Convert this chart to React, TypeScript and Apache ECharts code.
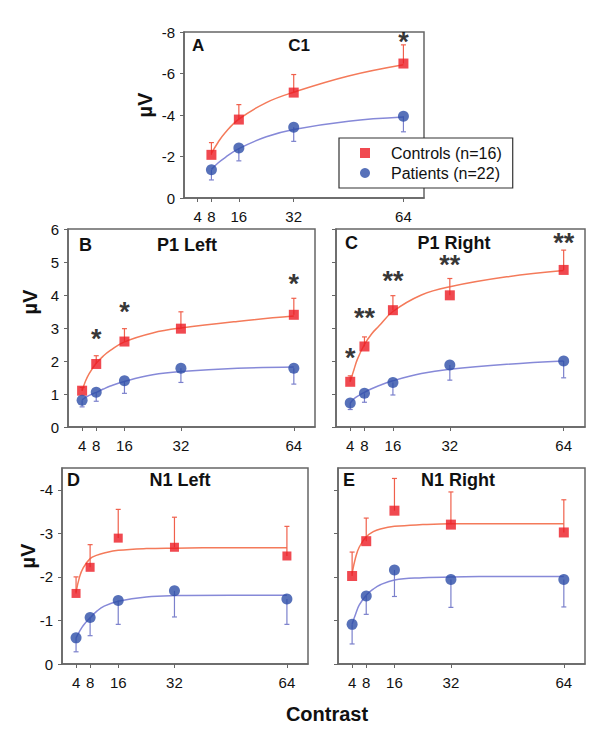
import React, { useEffect, useRef } from 'react';
import * as echarts from 'echarts';

const FONT = "'Liberation Sans', Arial, Helvetica, sans-serif";

// ---- data ----
const xTicks = [4, 8, 16, 32, 64];
const contrastA = [8, 16, 32, 64];
const contrastBE = [4, 8, 16, 32, 64];
const fitXA = [8, 10, 12, 16, 24, 32, 48, 64];
const fitXBE = [4, 5, 6, 8, 10, 12, 16, 24, 32, 48, 64];

const yTicksA = [-8, -6, -4, -2, 0];
const yTicksBC = [0, 1, 2, 3, 4, 5, 6];
const yTicksDE = [-4, -3, -2, -1, 0];

// A: C1
const ctrlA = [-2.08, -3.78, -5.08, -6.48];
const ctrlErrA = [0.59, 0.72, 0.87, 0.9];
const patA = [-1.36, -2.41, -3.41, -3.94];
const patErrA = [0.49, 0.62, 0.68, 0.75];
const fitCtrlA = [-2.15, -2.7, -3.15, -3.8, -4.6, -5.1, -5.88, -6.42];
const fitPatA = [-1.38, -1.7, -1.95, -2.38, -2.95, -3.3, -3.7, -3.9];
const starXA = [64];
const starYA = [-7.82];
const starTA = ['*'];

// B: P1 Left
const ctrlB = [1.1, 1.91, 2.59, 2.98, 3.4];
const ctrlErrB = [0.1, 0.25, 0.39, 0.51, 0.5];
const patB = [0.81, 1.05, 1.4, 1.78, 1.78];
const patErrB = [0.2, 0.27, 0.38, 0.43, 0.48];
const fitCtrlB = [1.1, 1.4, 1.62, 1.93, 2.15, 2.32, 2.58, 2.85, 3.0, 3.2, 3.36];
const fitPatB = [0.82, 0.9, 0.96, 1.05, 1.15, 1.24, 1.38, 1.58, 1.68, 1.78, 1.82];
const starXB = [8, 16, 64];
const starYB = [2.85, 3.66, 4.52];
const starTB = ['*', '*', '*'];

// C: P1 Right
const ctrlC = [1.37, 2.44, 3.54, 3.99, 4.76];
const ctrlErrC = [0.18, 0.29, 0.44, 0.51, 0.6];
const patC = [0.73, 1.02, 1.35, 1.88, 2.0];
const patErrC = [0.2, 0.27, 0.38, 0.46, 0.51];
const fitCtrlC = [1.38, 1.72, 2.05, 2.5, 2.82, 3.05, 3.5, 4.0, 4.25, 4.55, 4.74];
const fitPatC = [0.73, 0.85, 0.93, 1.05, 1.16, 1.25, 1.4, 1.62, 1.75, 1.9, 2.0];
const starXC = [4, 8, 16, 32, 64];
const starYC = [2.27, 3.48, 4.6, 5.08, 5.77];
const starTC = ['*', '**', '**', '**', '**'];

// D: N1 Left
const ctrlD = [-1.62, -2.22, -2.89, -2.68, -2.48];
const ctrlErrD = [0.38, 0.52, 0.66, 0.69, 0.68];
const patD = [-0.6, -1.07, -1.46, -1.68, -1.49];
const patErrD = [0.32, 0.42, 0.55, 0.6, 0.58];
const fitCtrlD = [-1.65, -2.0, -2.2, -2.42, -2.5, -2.55, -2.61, -2.65, -2.66, -2.67, -2.67];
const fitPatD = [-0.6, -0.75, -0.88, -1.06, -1.22, -1.33, -1.44, -1.54, -1.57, -1.58, -1.58];

// E: N1 Right
const ctrlE = [-2.02, -2.82, -3.52, -3.2, -3.02];
const ctrlErrE = [0.55, 0.53, 0.74, 0.75, 0.75];
const patE = [-0.91, -1.56, -2.16, -1.94, -1.94];
const patErrE = [0.45, 0.42, 0.61, 0.64, 0.63];
const fitCtrlE = [-2.08, -2.45, -2.68, -2.92, -3.04, -3.1, -3.16, -3.2, -3.22, -3.22, -3.22];
const fitPatE = [-0.92, -1.15, -1.35, -1.58, -1.72, -1.82, -1.93, -1.98, -2.0, -2.01, -2.01];

const CTRL_NAME = 'Controls (n=16)';
const PAT_NAME = 'Patients (n=22)';

// ---- styling / layout ----
const AXIS_COLOR = '#666666';
const CTRL_MARK = '#ec1c24';
const CTRL_LINE = '#f47a5a';
const CTRL_ERR = '#f0604c';
const PAT_MARK = '#2d4ea8';
const PAT_LINE = '#8689d8';
const PAT_ERR = '#7b80cc';

type Panel = {
  letter: string;
  title: string;
  x: number[];
  ctrl: number[];
  ctrlErr: number[];
  pat: number[];
  patErr: number[];
  fitX: number[];
  fitCtrl: number[];
  fitPat: number[];
  starX: number[];
  starY: number[];
  starT: string[];
  yMin: number;
  yMax: number;
  yTicks: number[];
  inverse: boolean;
  grid: { left: number; top: number; width: number; height: number };
  showYLabels: boolean;
  titleSize: number;
  sqSize: number;
  circSize: number;
};

const panels: Panel[] = [
  {
    letter: 'A', title: 'C1', x: contrastA, ctrl: ctrlA, ctrlErr: ctrlErrA, pat: patA, patErr: patErrA,
    fitX: fitXA, fitCtrl: fitCtrlA, fitPat: fitPatA, starX: starXA, starY: starYA, starT: starTA,
    yMin: -8, yMax: 0, yTicks: yTicksA, inverse: true,
    grid: { left: 184, top: 32, width: 240, height: 166 }, showYLabels: true, titleSize: 17, sqSize: 10, circSize: 11,
  },
  {
    letter: 'B', title: 'P1 Left', x: contrastBE, ctrl: ctrlB, ctrlErr: ctrlErrB, pat: patB, patErr: patErrB,
    fitX: fitXBE, fitCtrl: fitCtrlB, fitPat: fitPatB, starX: starXB, starY: starYB, starT: starTB,
    yMin: 0, yMax: 6, yTicks: yTicksBC, inverse: false,
    grid: { left: 68, top: 229, width: 247, height: 198 }, showYLabels: true, titleSize: 18, sqSize: 10, circSize: 11,
  },
  {
    letter: 'C', title: 'P1 Right', x: contrastBE, ctrl: ctrlC, ctrlErr: ctrlErrC, pat: patC, patErr: patErrC,
    fitX: fitXBE, fitCtrl: fitCtrlC, fitPat: fitPatC, starX: starXC, starY: starYC, starT: starTC,
    yMin: 0, yMax: 6, yTicks: yTicksBC, inverse: false,
    grid: { left: 336, top: 229, width: 249, height: 198 }, showYLabels: false, titleSize: 18, sqSize: 10, circSize: 11,
  },
  {
    letter: 'D', title: 'N1 Left', x: contrastBE, ctrl: ctrlD, ctrlErr: ctrlErrD, pat: patD, patErr: patErrD,
    fitX: fitXBE, fitCtrl: fitCtrlD, fitPat: fitPatD, starX: [], starY: [], starT: [],
    yMin: -4.5, yMax: 0, yTicks: yTicksDE, inverse: true,
    grid: { left: 62, top: 468, width: 246, height: 196 }, showYLabels: true, titleSize: 18, sqSize: 9, circSize: 11,
  },
  {
    letter: 'E', title: 'N1 Right', x: contrastBE, ctrl: ctrlE, ctrlErr: ctrlErrE, pat: patE, patErr: patErrE,
    fitX: fitXBE, fitCtrl: fitCtrlE, fitPat: fitPatE, starX: [], starY: [], starT: [],
    yMin: -4.5, yMax: 0, yTicks: yTicksDE, inverse: true,
    grid: { left: 338, top: 468, width: 247, height: 196 }, showYLabels: false, titleSize: 18, sqSize: 10, circSize: 11,
  },
];

// label placement (pixel layout)
const titlePos = [
  { lx: 192, nx: 299, y: 45.5 },
  { lx: 79, nx: 187, y: 244.5 },
  { lx: 345, nx: 454, y: 242.5 },
  { lx: 67, nx: 180, y: 479.5 },
  { lx: 343, nx: 458, y: 479.5 },
];
const muPos = [
  { x: 145, y: 105 },
  { x: 30, y: 302 },
  { x: 28, y: 556 },
];

function errRender(color: string) {
  return (params: any, api: any) => {
    const x = api.value(0);
    const y = api.value(1);
    const e = api.value(2);
    const p0 = api.coord([x, y]);
    const p1 = api.coord([x, e]);
    const style = { stroke: color, lineWidth: 1.2 };
    return {
      type: 'group',
      children: [
        { type: 'line', shape: { x1: p0[0], y1: p0[1], x2: p1[0], y2: p1[1] }, style },
        { type: 'line', shape: { x1: p1[0] - 2.5, y1: p1[1], x2: p1[0] + 2.5, y2: p1[1] }, style },
      ],
    };
  };
}

function buildOption() {
  const grids: any[] = [];
  const xAxes: any[] = [];
  const yAxes: any[] = [];
  const series: any[] = [];
  const graphic: any[] = [];

  panels.forEach((p, i) => {
    grids.push({
      ...p.grid,
      show: true,
      borderColor: AXIS_COLOR,
      borderWidth: 1.5,
      backgroundColor: 'transparent',
      containLabel: false,
    });
    xAxes.push({
      type: 'value',
      gridIndex: i,
      min: 0,
      max: 70,
      splitLine: { show: false },
      axisLine: { show: true, lineStyle: { color: AXIS_COLOR, width: 1.5 } },
      axisTick: { show: true, customValues: xTicks, length: 4, lineStyle: { color: AXIS_COLOR, width: 1 } },
      axisLabel: { show: true, customValues: xTicks, fontSize: 15, margin: 11, color: '#111', fontFamily: FONT },
    });
    yAxes.push({
      type: 'value',
      gridIndex: i,
      min: p.yMin,
      max: p.yMax,
      inverse: p.inverse,
      splitLine: { show: false },
      axisLine: { show: true, lineStyle: { color: AXIS_COLOR, width: 1.5 } },
      axisTick: { show: true, customValues: p.yTicks, length: 4, lineStyle: { color: AXIS_COLOR, width: 1 } },
      axisLabel: {
        show: p.showYLabels,
        customValues: p.yTicks,
        fontSize: 15,
        margin: 9,
        color: '#111',
        fontFamily: FONT,
      },
    });

    const sgnC = (v: number) => (v < 0 ? -1 : 1);
    const ctrlErrData = p.x.map((x, k) => [x, p.ctrl[k], p.ctrl[k] + sgnC(p.ctrl[k]) * p.ctrlErr[k]]);
    const patErrData = p.x.map((x, k) => [x, p.pat[k], p.pat[k] - sgnC(p.pat[k]) * p.patErr[k]]);

    series.push({
      name: 'Controls fit',
      type: 'line',
      xAxisIndex: i,
      yAxisIndex: i,
      smooth: 0.4,
      showSymbol: false,
      symbol: 'none',
      silent: true,
      data: p.fitX.map((x, k) => [x, p.fitCtrl[k]]),
      lineStyle: { color: CTRL_LINE, width: 1.5 },
      z: 2,
    });
    series.push({
      name: 'Patients fit',
      type: 'line',
      xAxisIndex: i,
      yAxisIndex: i,
      smooth: 0.4,
      showSymbol: false,
      symbol: 'none',
      silent: true,
      data: p.fitX.map((x, k) => [x, p.fitPat[k]]),
      lineStyle: { color: PAT_LINE, width: 1.5 },
      z: 2,
    });
    series.push({
      name: 'Controls SEM',
      type: 'custom',
      xAxisIndex: i,
      yAxisIndex: i,
      silent: true,
      renderItem: errRender(CTRL_ERR),
      data: ctrlErrData,
      z: 3,
    });
    series.push({
      name: 'Patients SEM',
      type: 'custom',
      xAxisIndex: i,
      yAxisIndex: i,
      silent: true,
      renderItem: errRender(PAT_ERR),
      data: patErrData,
      z: 3,
    });
    series.push({
      name: CTRL_NAME,
      type: 'scatter',
      xAxisIndex: i,
      yAxisIndex: i,
      symbol: 'rect',
      symbolSize: p.sqSize,
      itemStyle: { color: CTRL_MARK },
      data: p.x.map((x, k) => [x, p.ctrl[k]]),
      z: 4,
    });
    series.push({
      name: PAT_NAME,
      type: 'scatter',
      xAxisIndex: i,
      yAxisIndex: i,
      symbol: 'circle',
      symbolSize: p.circSize,
      itemStyle: { color: PAT_MARK },
      data: p.x.map((x, k) => [x, p.pat[k]]),
      z: 4,
    });
    if (p.starX.length) {
      series.push({
        name: 'significance',
        type: 'scatter',
        xAxisIndex: i,
        yAxisIndex: i,
        symbolSize: 0.1,
        silent: true,
        itemStyle: { color: 'transparent' },
        data: p.starX.map((x, k) => [x, p.starY[k], p.starT[k]]),
        label: {
          show: true,
          position: 'inside',
          formatter: (d: any) => d.value[2],
          fontSize: 27,
          fontWeight: 'bold',
          color: '#000',
          fontFamily: FONT,
          offset: [0, 6],
        },
        z: 5,
      });
    }

    const tp = titlePos[i];
    graphic.push({
      type: 'text',
      x: tp.lx,
      y: tp.y,
      z: 10,
      style: {
        text: p.letter,
        fontSize: p.titleSize,
        fontWeight: 'bold',
        fontFamily: FONT,
        fill: '#111',
        align: 'left',
        verticalAlign: 'middle',
        textAlign: 'left',
        textVerticalAlign: 'middle',
      },
    });
    graphic.push({
      type: 'text',
      x: tp.nx,
      y: tp.y,
      z: 10,
      style: {
        text: p.title,
        fontSize: p.titleSize,
        fontWeight: 'bold',
        fontFamily: FONT,
        fill: '#111',
        align: 'center',
        verticalAlign: 'middle',
        textAlign: 'center',
        textVerticalAlign: 'middle',
      },
    });
  });

  muPos.forEach((m) => {
    graphic.push({
      type: 'text',
      x: m.x,
      y: m.y,
      rotation: Math.PI / 2,
      z: 10,
      style: {
        text: 'µV',
        fontSize: 20,
        fontWeight: 'bold',
        fontFamily: FONT,
        fill: '#111',
        align: 'center',
        verticalAlign: 'middle',
        textAlign: 'center',
        textVerticalAlign: 'middle',
      },
    });
  });

  graphic.push({
    type: 'text',
    x: 327,
    y: 714,
    z: 10,
    style: {
      text: 'Contrast',
      fontSize: 20,
      fontWeight: 'bold',
      fontFamily: FONT,
      fill: '#111',
      align: 'center',
      verticalAlign: 'middle',
      textAlign: 'center',
      textVerticalAlign: 'middle',
    },
  });

  return {
    animation: false,
    backgroundColor: '#ffffff',
    textStyle: { fontFamily: FONT },
    grid: grids,
    xAxis: xAxes,
    yAxis: yAxes,
    legend: {
      orient: 'vertical',
      left: 339,
      top: 138,
      data: [CTRL_NAME, PAT_NAME],
      backgroundColor: '#ffffff',
      borderColor: '#333',
      borderWidth: 1.2,
      padding: [7, 11, 7, 21],
      itemWidth: 10,
      itemHeight: 10,
      itemGap: 4,
      selectedMode: false,
      textStyle: { fontSize: 16, color: '#111', fontFamily: FONT, padding: [0, 0, 0, 16] },
      z: 20,
    },
    graphic,
    series,
  };
}

export default function App() {
  const ref = useRef<HTMLDivElement>(null);
  useEffect(() => {
    document.body.style.margin = '0';
    if (!ref.current) return;
    const chart = echarts.init(ref.current, undefined, { renderer: 'svg' });
    chart.setOption(buildOption() as any);
    return () => {
      chart.dispose();
    };
  }, []);
  return <div ref={ref} style={{ width: 600, height: 742, background: '#fff' }} />;
}
